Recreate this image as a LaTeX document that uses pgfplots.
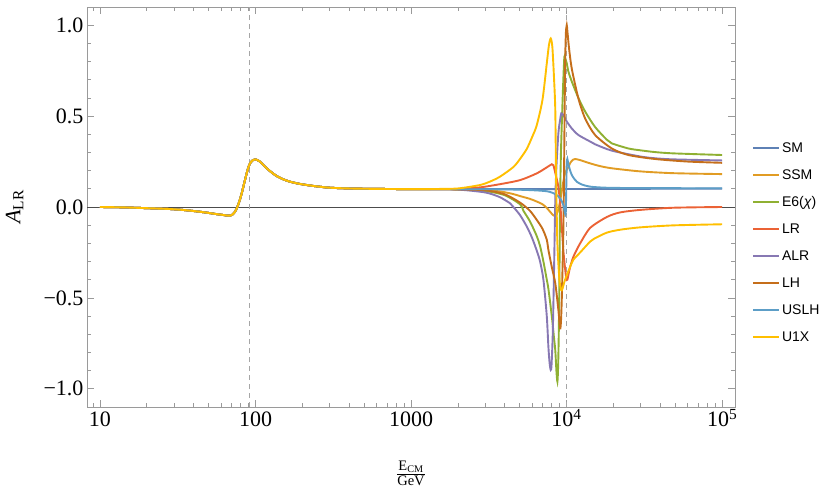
\documentclass[border=0pt]{standalone}
\usepackage{fontspec}
\setmainfont{Liberation Serif}
\newfontfamily\legfont{Liberation Sans}
\usepackage{pgfplots}
\pgfplotsset{compat=1.18}

\definecolor{cSM}{HTML}{5E81B5}
\definecolor{cSSM}{HTML}{E19C24}
\definecolor{cEsix}{HTML}{8FB032}
\definecolor{cLR}{HTML}{EB6235}
\definecolor{cALR}{HTML}{8778B3}
\definecolor{cLH}{HTML}{C56E1A}
\definecolor{cUSLH}{HTML}{5D9EC7}
\definecolor{cUX}{HTML}{FFBF00}
\definecolor{frm}{HTML}{9A9A9A}

% stacked fraction for the x label
\newcommand{\xfrac}[2]{\vbox{\offinterlineskip\halign{\hfil##\hfil\cr #1\cr
  \noalign{\kern1pt\hrule height 0.6pt\kern1.2pt}#2\cr}}}

\begin{document}
\begin{tikzpicture}
\begin{axis}[
  name=ax,
  scale only axis,
  width=648pt, height=400pt,
  xmode=log,
  xmin=8.25, xmax=121000,
  ymin=-1.1, ymax=1.1,
  xtick={10,100,1000,10000,100000},
  xticklabels={10,100,1000,10\textsuperscript{4},10\textsuperscript{5}},
  minor xtick={9,20,30,40,50,60,70,80,90,200,300,400,500,600,700,800,900,
    2000,3000,4000,5000,6000,7000,8000,9000,20000,30000,40000,50000,60000,70000,80000,90000},
  ytick={-1,-0.5,0,0.5,1},
  yticklabels={−1.0,−0.5,0.0,0.5,1.0},
  minor y tick num=4,
  tick align=inside,
  major tick length=7pt, minor tick length=4pt,
  every tick/.style={frm, line width=0.7pt},
  axis line style={frm, line width=0.9pt},
  tick label style={font=\fontsize{22}{26}\selectfont},
  xticklabel style={text height=16pt, text depth=0pt},
  xlabel={\xfrac{E\textsubscript{CM}}{GeV}},
  ylabel={\textit{A}\textsubscript{LR}},
  every axis x label/.style={at={(axis description cs:0.5,-0.135)}, anchor=north,
    inner sep=0pt, font=\fontsize{14.5}{17}\selectfont},
  every axis y label/.style={at={(axis description cs:-0.0926,0.5)}, anchor=south,
    rotate=90, font=\fontsize{22}{26}\selectfont},
  legend style={at={(axis description cs:1.026,0.411)}, anchor=west, draw=none,
    fill=none, inner sep=0pt, row sep=9pt,
    nodes={text height=11pt, text depth=3pt, inner sep=2pt},
    font=\legfont\fontsize{14}{16}\selectfont},
  legend cell align=left,
  legend image code/.code={\draw[#1, line width=2pt] (0pt,0pt) -- (26pt,0pt);},
  every axis plot/.append style={line width=1.9pt, smooth, tension=0.45},
]
% reference lines
\addplot[forget plot, black!70, line width=0.8pt, sharp plot] coordinates {(8.25,0) (121000,0)};
\addplot[forget plot, gray!70, line width=0.8pt, sharp plot, dash pattern=on 5pt off 4pt] coordinates {(91.19,-1.1) (91.19,1.1)};
\addplot[forget plot, gray!70, line width=0.8pt, sharp plot, dash pattern=on 5pt off 4pt] coordinates {(10000,-1.1) (10000,1.1)};

% SM
\addplot[cSM] coordinates {
(10,0) (14,-0.002) (21,-0.007) (28,-0.011) (34,-0.016) (41,-0.023) (48.5,-0.031) (55,-0.038) (62,-0.044) (66,-0.047) (68.5,-0.048) (71,-0.042) (73.8,-0.026) (76.4,0.0) (79,0.035) (81.5,0.075) (84.5,0.13) (87.7,0.185) (90,0.218) (92.2,0.24) (95.5,0.256) (99.3,0.262) (103,0.258) (107,0.249) (112,0.232) (118,0.213) (127,0.19) (137,0.17) (150,0.153) (167,0.139) (190,0.128) (213,0.121) (250,0.113) (301,0.106) (400,0.102) (550,0.1) (750,0.099) (1000,0.098) (1400,0.098)
(2000,0.098) (5000,0.098) (10000,0.099) (30000,0.1) (100000,0.101)};
\addlegendentry{SM}

% SSM
\addplot[cSSM] coordinates {
(10,0) (14,-0.002) (21,-0.007) (28,-0.011) (34,-0.016) (41,-0.023) (48.5,-0.031) (55,-0.038) (62,-0.044) (66,-0.047) (68.5,-0.048) (71,-0.042) (73.8,-0.026) (76.4,0.0) (79,0.035) (81.5,0.075) (84.5,0.13) (87.7,0.185) (90,0.218) (92.2,0.24) (95.5,0.256) (99.3,0.262) (103,0.258) (107,0.249) (112,0.232) (118,0.213) (127,0.19) (137,0.17) (150,0.153) (167,0.139) (190,0.128) (213,0.121) (250,0.113) (301,0.106) (400,0.102) (550,0.1) (750,0.099) (1000,0.098) (1400,0.098)
(2000,0.097) (2800,0.094) (3700,0.086) (4500,0.072) (5024,0.06) (5800,0.045) (6430,0.03) (7000,0.015) (7458,-0.005) (7900,-0.03) (8224,-0.046) (8450,-0.05) (8650,-0.04) (8900,-0.005) (9200,0.06) (9527,0.14) (9776,0.185) (10025,0.205) (10270,0.22) (10600,0.245) (11000,0.26) (11350,0.264) (12220,0.258) (14170,0.24) (16400,0.225) (19530,0.213) (29700,0.196) (48620,0.186) (100000,0.181)};
\addlegendentry{SSM}

% E6(chi)
\addplot[cEsix] coordinates {
(10,0) (14,-0.002) (21,-0.007) (28,-0.011) (34,-0.016) (41,-0.023) (48.5,-0.031) (55,-0.038) (62,-0.044) (66,-0.047) (68.5,-0.048) (71,-0.042) (73.8,-0.026) (76.4,0.0) (79,0.035) (81.5,0.075) (84.5,0.13) (87.7,0.185) (90,0.218) (92.2,0.24) (95.5,0.256) (99.3,0.262) (103,0.258) (107,0.249) (112,0.232) (118,0.213) (127,0.19) (137,0.17) (150,0.153) (167,0.139) (190,0.128) (213,0.121) (250,0.113) (301,0.106) (400,0.102) (550,0.1) (750,0.099) (1000,0.098) (1400,0.098)
(2000,0.097) (3000,0.088) (4000,0.065) (5024,0.015) (5272,-0.02) (5824,-0.08) (6430,-0.16) (6754,-0.215) (7096,-0.3) (7458,-0.4) (7640,-0.45) (8031,-0.6) (8300,-0.72) (8460,-0.79) (8600,-0.9) (8727,-0.96) (8820,-0.88) (8908,-0.69) (9000,-0.35) (9083,0.04) (9200,0.3) (9350,0.5) (9527,0.7) (9673,0.826) (9776,0.82) (10025,0.79) (10270,0.745) (10800,0.69) (11910,0.6) (13160,0.525) (15250,0.44) (18140,0.37) (19530,0.35) (24950,0.322) (29700,0.312) (37080,0.302) (48620,0.295) (100000,0.286)};
\addlegendentry{E6(\textit{χ})}

% LR
\addplot[cLR] coordinates {
(10,0) (14,-0.002) (21,-0.007) (28,-0.011) (34,-0.016) (41,-0.023) (48.5,-0.031) (55,-0.038) (62,-0.044) (66,-0.047) (68.5,-0.048) (71,-0.042) (73.8,-0.026) (76.4,0.0) (79,0.035) (81.5,0.075) (84.5,0.13) (87.7,0.185) (90,0.218) (92.2,0.24) (95.5,0.256) (99.3,0.262) (103,0.258) (107,0.249) (112,0.232) (118,0.213) (127,0.19) (137,0.17) (150,0.153) (167,0.139) (190,0.128) (213,0.121) (250,0.113) (301,0.106) (400,0.102) (550,0.1) (750,0.099) (1000,0.098) (1400,0.098)
(2000,0.099) (2778,0.108) (3700,0.125) (5024,0.148) (6430,0.185) (7458,0.218) (8031,0.235) (8224,0.23) (8500,0.18) (8854,0.11) (9163,-0.016) (9527,-0.236) (9915,-0.383) (10110,-0.4) (10532,-0.33) (11063,-0.273) (11630,-0.235) (12220,-0.2) (14170,-0.115) (18140,-0.055) (22000,-0.03) (29700,-0.016) (48620,-0.004) (100000,0.0)};
\addlegendentry{LR}

% ALR
\addplot[cALR] coordinates {
(10,0) (14,-0.002) (21,-0.007) (28,-0.011) (34,-0.016) (41,-0.023) (48.5,-0.031) (55,-0.038) (62,-0.044) (66,-0.047) (68.5,-0.048) (71,-0.042) (73.8,-0.026) (76.4,0.0) (79,0.035) (81.5,0.075) (84.5,0.13) (87.7,0.185) (90,0.218) (92.2,0.24) (95.5,0.256) (99.3,0.262) (103,0.258) (107,0.249) (112,0.232) (118,0.213) (127,0.19) (137,0.17) (150,0.153) (167,0.139) (190,0.128) (213,0.121) (250,0.113) (301,0.106) (400,0.102) (550,0.1) (750,0.099) (1000,0.098) (1400,0.098)
(2000,0.096) (3000,0.08) (3700,0.055) (4336,0.02) (4550,0.0) (5024,-0.045) (5550,-0.108) (6000,-0.17) (6430,-0.24) (6754,-0.3) (7096,-0.4) (7458,-0.6) (7640,-0.77) (7780,-0.86) (7907,-0.896) (8000,-0.87) (8152,-0.69) (8311,-0.33) (8460,0.038) (8600,0.22) (8854,0.405) (9083,0.478) (9250,0.515) (9527,0.505) (9776,0.487) (10025,0.47) (10800,0.432) (11910,0.396) (14170,0.36) (15250,0.345) (19530,0.31) (29700,0.278) (37080,0.268) (48620,0.262) (100000,0.256)};
\addlegendentry{ALR}

% LH
\addplot[cLH] coordinates {
(10,0) (14,-0.002) (21,-0.007) (28,-0.011) (34,-0.016) (41,-0.023) (48.5,-0.031) (55,-0.038) (62,-0.044) (66,-0.047) (68.5,-0.048) (71,-0.042) (73.8,-0.026) (76.4,0.0) (79,0.035) (81.5,0.075) (84.5,0.13) (87.7,0.185) (90,0.218) (92.2,0.24) (95.5,0.256) (99.3,0.262) (103,0.258) (107,0.249) (112,0.232) (118,0.213) (127,0.19) (137,0.17) (150,0.153) (167,0.139) (190,0.128) (213,0.121) (250,0.113) (301,0.106) (400,0.102) (550,0.1) (750,0.099) (1000,0.098) (1400,0.098)
(2000,0.097) (3000,0.092) (4000,0.07) (5024,0.024) (5800,-0.02) (6430,-0.071) (7000,-0.12) (7458,-0.18) (7640,-0.236) (8031,-0.33) (8460,-0.42) (8854,-0.566) (9083,-0.667) (9200,-0.63) (9310,-0.51) (9420,-0.33) (9527,-0.145) (9620,0.15) (9720,0.55) (9800,0.82) (9900,0.96) (10025,1.0) (10110,0.97) (10380,0.87) (10800,0.76) (11910,0.597) (13160,0.487) (15250,0.396) (19530,0.322) (24950,0.286) (37080,0.264) (60000,0.25) (100000,0.243)};
\addlegendentry{LH}

% USLH
\addplot[cUSLH] coordinates {
(10,0) (14,-0.002) (21,-0.007) (28,-0.011) (34,-0.016) (41,-0.023) (48.5,-0.031) (55,-0.038) (62,-0.044) (66,-0.047) (68.5,-0.048) (71,-0.042) (73.8,-0.026) (76.4,0.0) (79,0.035) (81.5,0.075) (84.5,0.13) (87.7,0.185) (90,0.218) (92.2,0.24) (95.5,0.256) (99.3,0.262) (103,0.258) (107,0.249) (112,0.232) (118,0.213) (127,0.19) (137,0.17) (150,0.153) (167,0.139) (190,0.128) (213,0.121) (250,0.113) (301,0.106) (400,0.102) (550,0.1) (750,0.099) (1000,0.098) (1400,0.098)
(2000,0.098) (4000,0.097) (5800,0.093) (7000,0.089) (7750,0.084) (8500,0.07) (9083,0.048) (9527,0.011) (9776,-0.035) (9880,-0.03) (9960,0.12) (10025,0.24) (10110,0.265) (10250,0.24) (10500,0.205) (10800,0.176) (11200,0.155) (11630,0.139) (12500,0.124) (14170,0.112) (18140,0.106) (30000,0.104) (100000,0.103)};
\addlegendentry{USLH}

% U1X
\addplot[cUX] coordinates {
(10,0) (14,-0.002) (21,-0.007) (28,-0.011) (34,-0.016) (41,-0.023) (48.5,-0.031) (55,-0.038) (62,-0.044) (66,-0.047) (68.5,-0.048) (71,-0.042) (73.8,-0.026) (76.4,0.0) (79,0.035) (81.5,0.075) (84.5,0.13) (87.7,0.185) (90,0.218) (92.2,0.24) (95.5,0.256) (99.3,0.262) (103,0.258) (107,0.249) (112,0.232) (118,0.213) (127,0.19) (137,0.17) (150,0.153) (167,0.139) (190,0.128) (213,0.121) (250,0.113) (301,0.106) (400,0.102) (550,0.1) (750,0.099) (1000,0.098) (1400,0.099)
(2000,0.102) (2778,0.121) (3221,0.14) (3733,0.167) (4550,0.22) (5024,0.265) (5550,0.32) (6040,0.39) (6430,0.45) (7000,0.59) (7458,0.79) (7700,0.89) (7907,0.927) (8100,0.88) (8311,0.7) (8460,0.53) (8558,0.17) (8727,-0.2) (8995,-0.4) (9219,-0.456) (9400,-0.45) (9776,-0.4) (10532,-0.33) (11063,-0.29) (12220,-0.25) (14170,-0.19) (15000,-0.175) (18140,-0.141) (22080,-0.125) (29700,-0.112) (48620,-0.101) (100000,-0.095)};
\addlegendentry{U1X}
\end{axis}
\pgfresetboundingbox
\path[use as bounding box] ([xshift=-87pt,yshift=-81pt]ax.south west) rectangle ([xshift=95pt,yshift=7pt]ax.north east);
\end{tikzpicture}
\end{document}
